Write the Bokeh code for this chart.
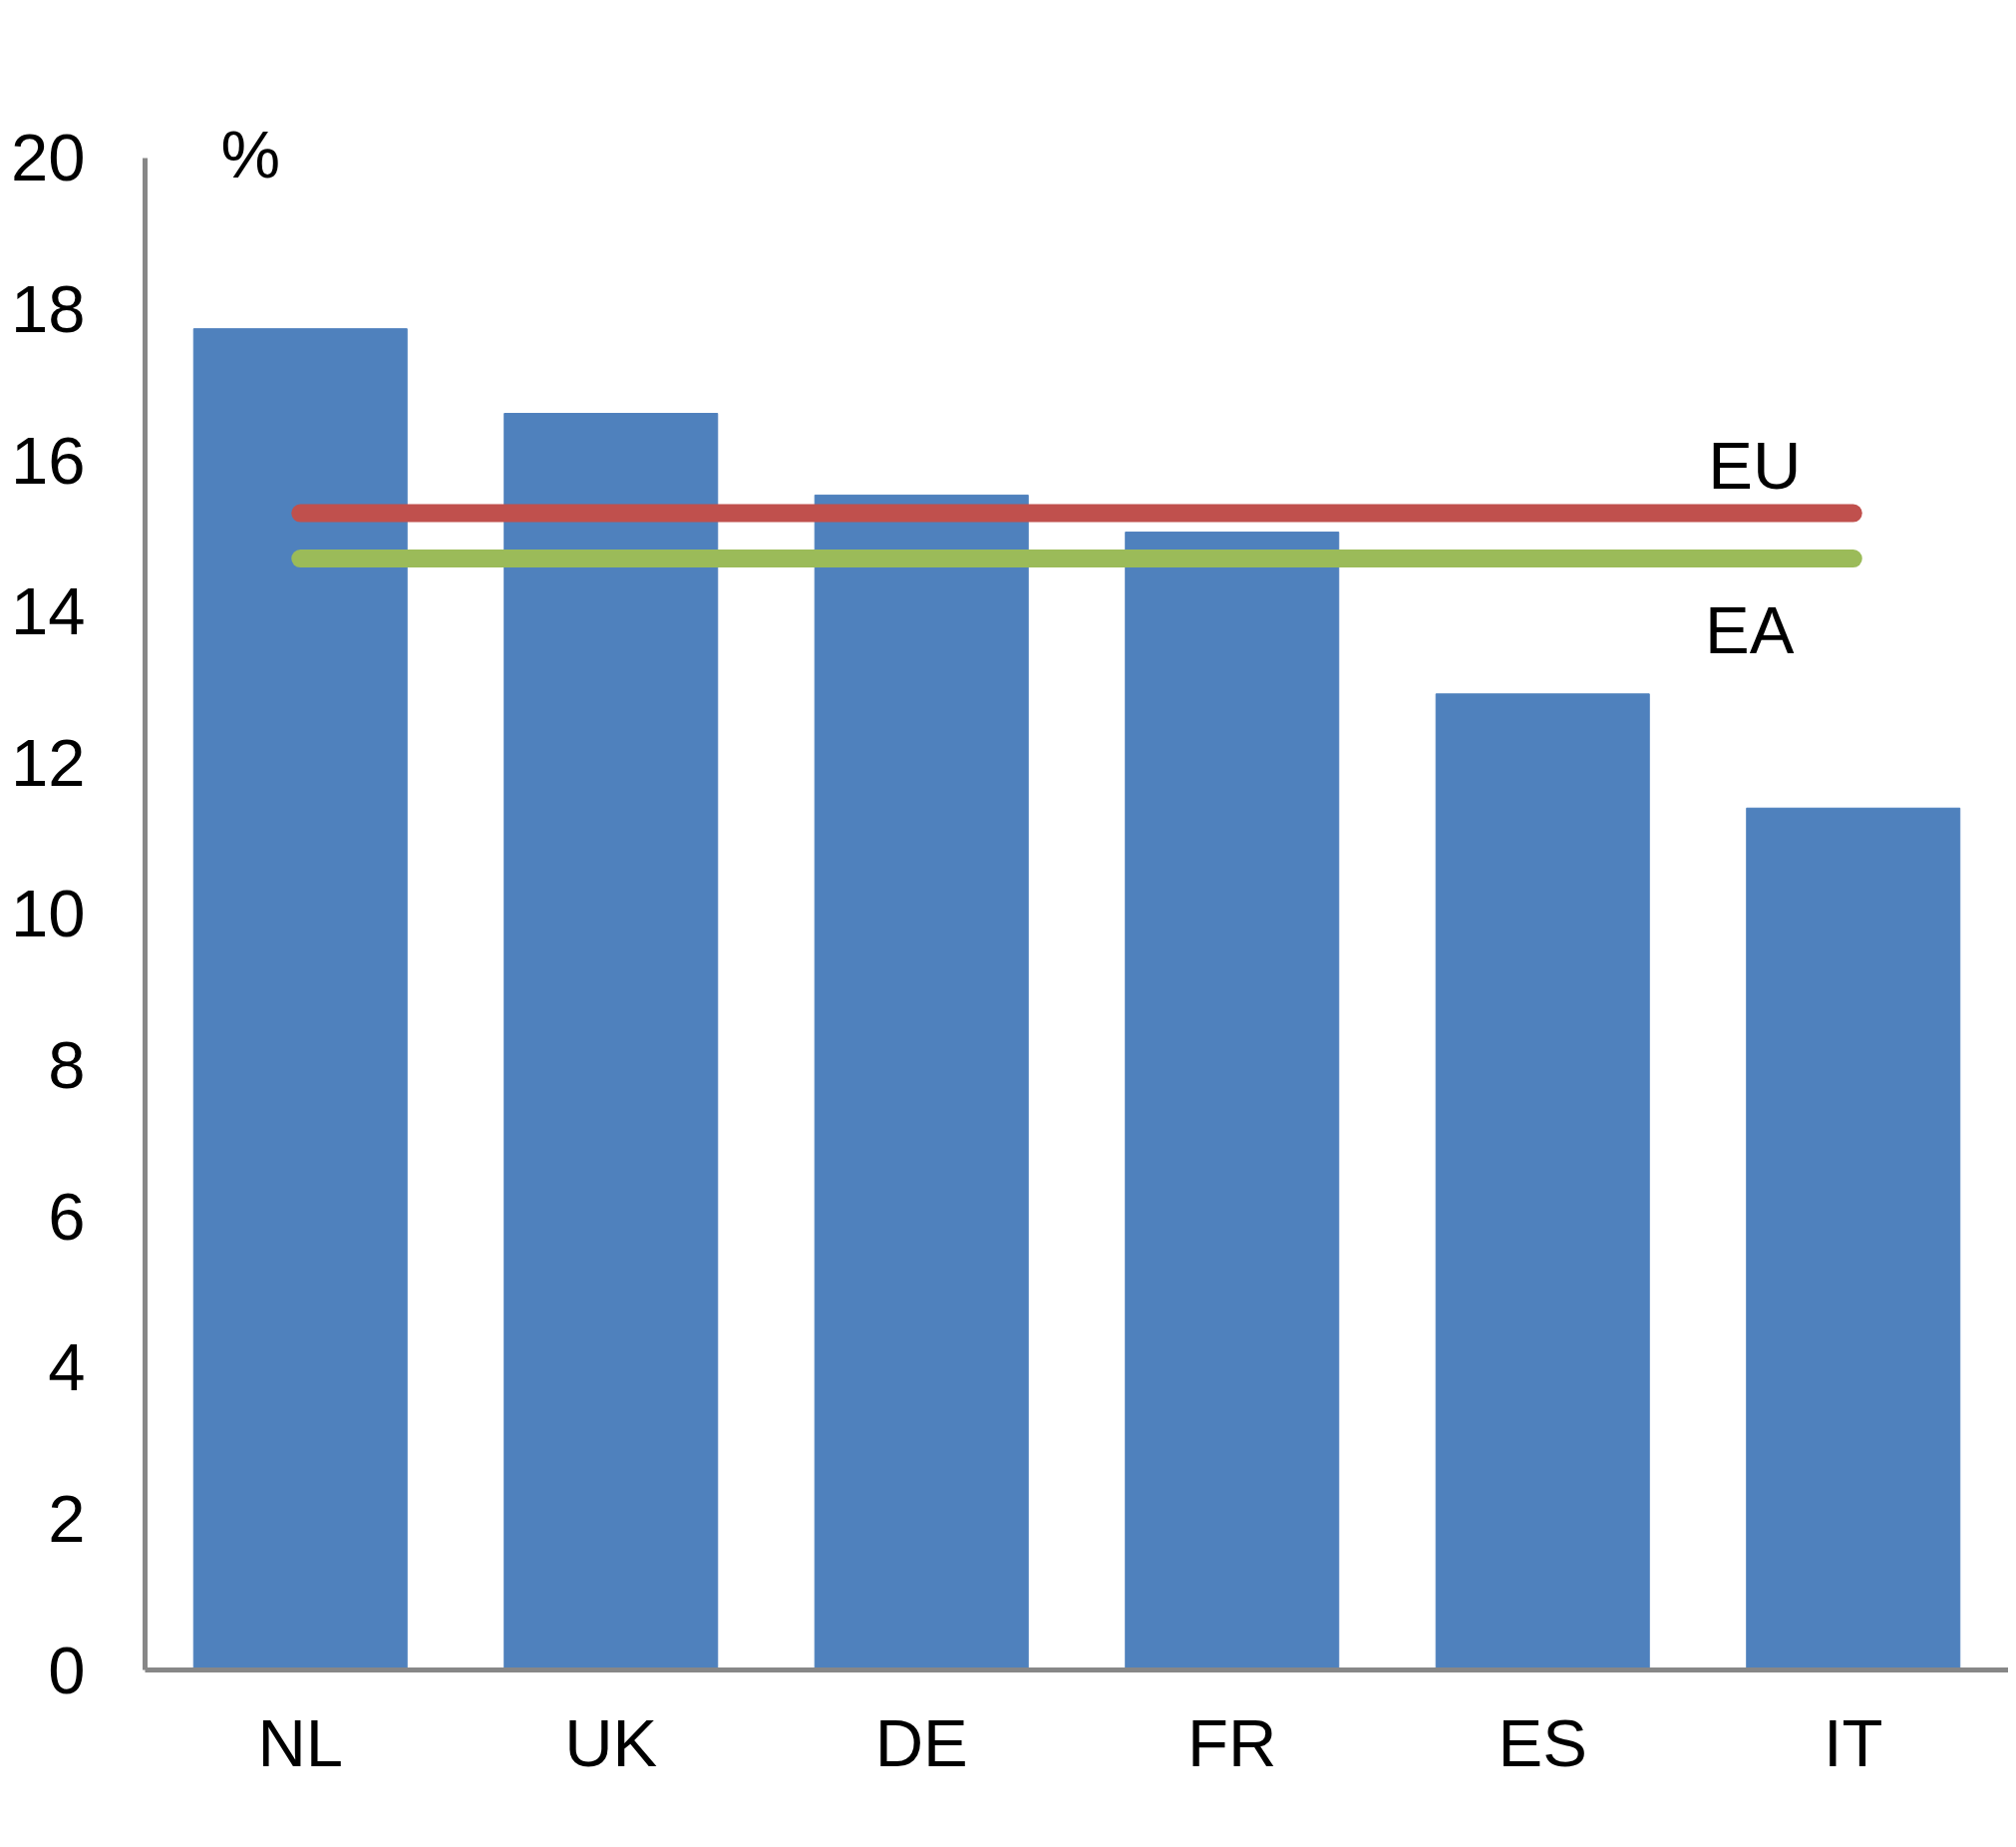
from bokeh.plotting import figure
from bokeh.models import Range1d, FixedTicker
from bokeh.core.properties import value
from bokeh.embed import file_html
from bokeh.resources import INLINE

countries = ["NL", "UK", "DE", "FR", "ES", "IT"]
shares = [17.74, 16.62, 15.54, 15.05, 12.91, 11.40]
eu_avg = 15.30
ea_avg = 14.70
y_ticks = [0, 2, 4, 6, 8, 10, 12, 14, 16, 18, 20]

FONT = "Liberation Sans"
FS = "67px"
AXIS_GREY = "#878787"

p = figure(x_range=countries, y_range=Range1d(0, 21),
           width=2014, height=1836, output_backend="svg", toolbar_location=None,
           min_border_left=145, min_border_right=0, min_border_top=82, min_border_bottom=162)
p.outline_line_color = None
p.grid.grid_line_color = None
p.background_fill_color = "white"
p.x_range.range_padding = 0

p.vbar(x=countries, top=shares, width=0.687, color="#4F81BD")

p.line(x=[countries[0], countries[-1]], y=[eu_avg, eu_avg], line_color="#C0504D",
       line_width=18, line_cap="round")
p.line(x=[countries[0], countries[-1]], y=[ea_avg, ea_avg], line_color="#9BBB59",
       line_width=18, line_cap="round")

p.text(x=[countries[-1]], y=[15.94], text=["EU"], x_offset=-99, text_align="center",
       text_baseline="middle", text_font=value(FONT), text_font_size=FS, text_color="black")
p.text(x=[countries[-1]], y=[13.76], text=["EA"], x_offset=-104, text_align="center",
       text_baseline="middle", text_font=value(FONT), text_font_size=FS, text_color="black")
p.text(x=[countries[0]], y=[20.05], text=["%"], x_offset=-50, text_align="center",
       text_baseline="middle", text_font=value(FONT), text_font_size=FS, text_color="black")

for ax in (p.xaxis[0], p.yaxis[0]):
    ax.axis_line_color = AXIS_GREY
    ax.axis_line_width = 5
    ax.major_tick_line_color = None
    ax.minor_tick_line_color = None
    ax.major_tick_out = 0
    ax.major_tick_in = 0
    ax.major_label_text_font = FONT
    ax.major_label_text_font_size = FS
    ax.major_label_text_color = "black"

p.yaxis.ticker = FixedTicker(ticks=y_ticks)
p.yaxis.bounds = (0, 20)
p.yaxis.major_label_standoff = 60
p.xaxis.major_label_standoff = 35

open("out.html", "w").write(file_html(p, INLINE))
